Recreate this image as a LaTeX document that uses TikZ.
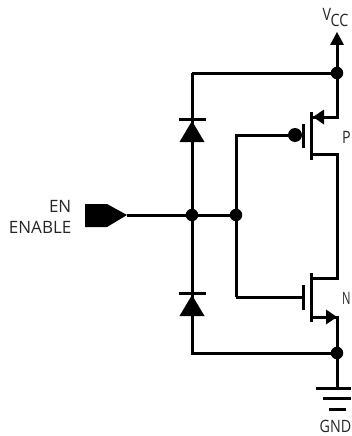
\documentclass[tikz,border=0pt]{standalone}
\usepackage{fontspec}
\setmainfont{Lato}
\newfontfamily\lbl{Open Sans}
\newfontfamily\lblnarrow{Open Sans}[FakeStretch=0.84]
\newfontfamily\lblnarrower{Open Sans}[FakeStretch=0.66]
\tikzset{
  wire/.style={line width=3pt,line cap=butt,line join=miter},
  junction/.style={circle,fill=black,inner sep=0pt,minimum size=12.5pt},
  bubble/.style={circle,fill=black,inner sep=0pt,minimum size=14pt},
  lab/.style={inner sep=0pt,font=\lbl\fontsize{17}{17}\selectfont,text=black!85},
  labn/.style={inner sep=0pt,font=\lblnarrow\fontsize{17}{17}\selectfont,text=black!85},
  labnn/.style={inner sep=0pt,font=\lblnarrower\fontsize{17}{17}\selectfont,text=black!85},
  solid tri/.style={fill=black,draw=none}
}
\begin{document}
\begin{tikzpicture}[x=1pt,y=-1pt]
\useasboundingbox (0,0) rectangle (351,436);
% coordinates
\coordinate (vcctip) at (337,32);
\coordinate (vccbase) at (337,44);
\node[junction] (jtop) at (337,73) {};
\node[junction] (jbot) at (337,353) {};
\node[junction] (jen) at (192,215) {};
\node[junction] (jgate) at (236,215) {};
\coordinate (tl) at (192,73);
\coordinate (bl) at (192,353);
\coordinate (pin) at (127,215);
\coordinate (gtop) at (236,135);
\coordinate (gbot) at (236,297);
\node[bubble] (pg) at (295,135) {};
\coordinate (ngate) at (303,297);
\coordinate (ps) at (337,117);
\coordinate (psch) at (311,117);
\coordinate (pd) at (337,154);
\coordinate (pdch) at (311,154);
\coordinate (nd) at (337,278);
\coordinate (ndch) at (311,278);
\coordinate (ns) at (337,317);
\coordinate (nsch) at (311,317);
\coordinate (gnd) at (337,388);
% wires
\draw[wire] (vccbase) -- (jtop.center) -- (ps) -- (psch);
\draw[wire] (tl) -- (jtop.center);
\draw[wire] (tl) -- (bl) -- (jbot.center);
\draw[wire] (pin) -- (jgate.center);
\draw[wire] (gbot) -- (gtop) -- (pg.center);
\draw[wire] (gbot) -- (ngate);
\draw[wire] (pdch) -- (pd) -- (nd) -- (ndch);
\draw[wire] (nsch) -- (ns) -- (gnd);
% VCC arrow
\fill[solid tri] (vcctip) -- (330,45) -- (344,45) -- cycle;
% input
\fill[solid tri] (85,204) -- (107,204) -- (127,215) -- (107,227) -- (85,227) -- cycle;
% diodes
\fill[solid tri] (192,121) -- (179.5,142) -- (204.5,142) -- cycle;
\draw[wire] (179,119) -- (206,119);
\fill[solid tri] (192,295) -- (179.5,316) -- (204.5,316) -- cycle;
\draw[wire] (179,293) -- (206,293);
% P FET
\draw[wire] (303,124) -- (303,148);
\draw[wire] (311,112) -- (311,160);
\fill[solid tri] (313,117) -- (324,109.5) -- (324,124.5) -- cycle;
% N FET
\draw[wire] (303,285) -- (303,310);
\draw[wire] (311,273) -- (311,322);
\fill[solid tri] (337,317) -- (326,309.5) -- (326,324.5) -- cycle;
% ground
\draw[wire] (316,388) -- (351,388);
\draw[wire] (323,398) -- (351,398);
\draw[wire] (329,409) -- (346,409);
% labels
\node[lab,anchor=east] (en) at (71.5,206) {EN};
\node[lab,anchor=east] (enable) at (71.5,227) {ENABLE};
\node[labn,anchor=west] (plab) at (342,137) {P};
\node[labnn,anchor=west] (nlab) at (342,298) {N};
\node[labn,anchor=west] (gndlab) at (319.5,426) {GND};
\node[labn,anchor=base west] (vlab) at (322.5,21) {V\kern-0.5pt\raisebox{-6pt}{CC}};
\end{tikzpicture}
\end{document}
